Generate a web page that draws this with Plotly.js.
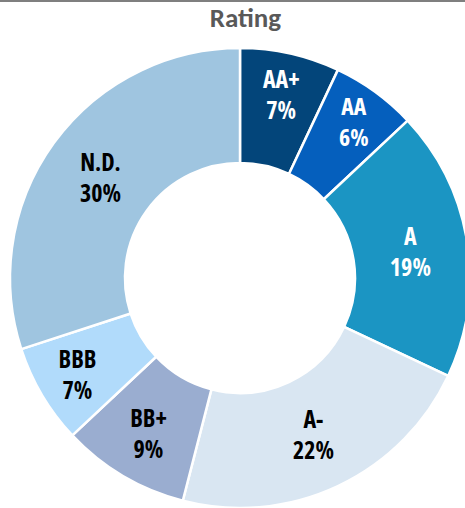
<!DOCTYPE html>
<html><head><meta charset="utf-8">
<script src="https://cdn.plot.ly/plotly-3.0.1.min.js"></script>
<style>
html,body{margin:0;padding:0;overflow:hidden;background:#fff}
#chart g.slicetext text, #chart g.slicetext tspan{font-stretch:75% !important}
</style>
</head><body><div id="chart"></div>
<script>
const labels = ["AA+", "AA", "A", "A-", "BB+", "BBB", "N.D."];
const values = [7, 6, 19, 22, 9, 7, 30];
const colors = ["#03457a", "#055fbd", "#1b95c3", "#d9e6f2", "#9aadd0", "#b1dbfb", "#9fc5e0"];
const textColors = ["#ffffff", "#ffffff", "#ffffff", "#000000", "#000000", "#000000", "#000000"];

Plotly.newPlot("chart", [{
  type: "pie",
  labels: labels,
  values: values,
  sort: false,
  direction: "clockwise",
  rotation: 0,
  hole: 0.5,
  marker: {colors: colors, line: {color: "#ffffff", width: 2.5}},
  texttemplate: "%{label}<br>%{value}%",
  textposition: "inside",
  insidetextorientation: "horizontal",
  textfont: {family: "Open Sans", size: 24, color: textColors, weight: 700},
  hoverinfo: "none"
}], {
  width: 470, height: 508,
  margin: {l: 10, r: 0, t: 48, b: 0},
  showlegend: false,
  paper_bgcolor: "#ffffff",
  title: {text: "<b>Rating</b>", x: 240.5/470, xanchor: "center", xref: "paper", y: 1 - 18/508, yref: "container", yanchor: "middle",
    font: {family: "Carlito", size: 27, color: "#595959"}},
  shapes: [{type: "line", xref: "paper", yref: "paper", x0: -0.1, x1: 1.1, y0: 1 + 47/460, y1: 1 + 47/460, line: {color: "#7f7f7f", width: 2}}]
}, {displayModeBar: false, staticPlot: true});
</script></body></html>
